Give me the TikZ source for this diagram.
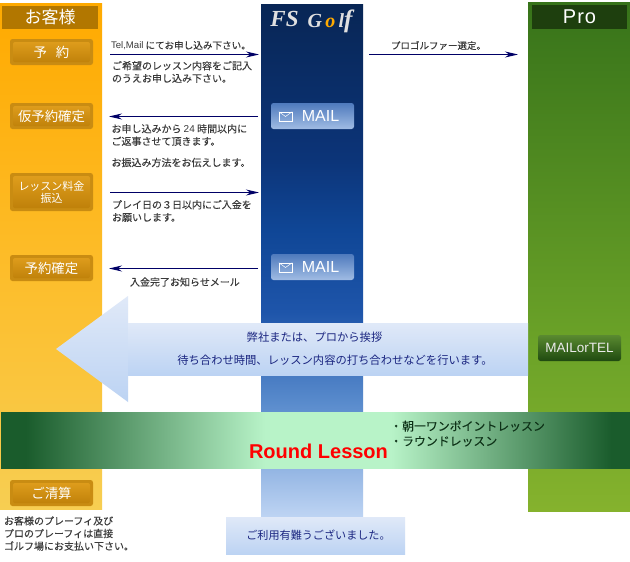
\documentclass[tikz,border=0pt]{standalone}
\usepackage{fontspec}
\setmainfont{Noto Sans CJK JP}
\newfontfamily\heavy{Noto Sans CJK JP}[FakeBold=0.04]
\newfontfamily\latn{Liberation Sans}
\newfontfamily\serf{Liberation Serif}
\usetikzlibrary{arrows.meta,calc}
\definecolor{oa}{HTML}{FFAA00}\definecolor{ob}{HTML}{FDBC28}\definecolor{oc}{HTML}{F7CE52}
\definecolor{ba}{HTML}{082655}\definecolor{bb}{HTML}{0C3478}\definecolor{bc}{HTML}{0F4696}
\definecolor{bd}{HTML}{1E55AA}\definecolor{be}{HTML}{5A8CCD}\definecolor{bf}{HTML}{BED4F3}
\definecolor{ga}{HTML}{37731A}\definecolor{gb}{HTML}{6CA328}\definecolor{gc}{HTML}{85B22D}
\definecolor{la}{HTML}{E0E9F8}\definecolor{lb}{HTML}{BCD3F3}
\definecolor{da}{HTML}{1A5C2C}\definecolor{db}{HTML}{B8F3C8}
\definecolor{na}{HTML}{000066}\definecolor{tx}{HTML}{3A3A3A}\definecolor{tb}{HTML}{1A2580}
\definecolor{oba}{HTML}{E2A01E}\definecolor{obb}{HTML}{BC7E08}\definecolor{obo}{HTML}{C98C12}
\definecolor{bba}{HTML}{A0BCE4}\definecolor{bbb}{HTML}{4F7ABD}
\definecolor{gba}{HTML}{5A8A30}\definecolor{gbb}{HTML}{1F4A10}
\pgfdeclareverticalshading{custcol}{100bp}{color(0bp)=(oc);color(25bp)=(oc);color(50bp)=(ob);color(75bp)=(oa);color(100bp)=(oa)}
\pgfdeclareverticalshading{firmcol}{100bp}{color(0bp)=(bf);color(25bp)=(bf);color(36bp)=(be);color(45bp)=(bd);color(53bp)=(bc);color(60bp)=(bb);color(75bp)=(ba);color(100bp)=(ba)}
\pgfdeclareverticalshading{procol}{100bp}{color(0bp)=(gc);color(25bp)=(gc);color(41bp)=(gb);color(75bp)=(ga);color(100bp)=(ga)}
\pgfdeclareverticalshading{pale}{100bp}{color(0bp)=(lb);color(25bp)=(lb);color(75bp)=(la);color(100bp)=(la)}
\pgfdeclarehorizontalshading{bandshade}{100bp}{color(0bp)=(da);color(27bp)=(da);color(46bp)=(db);color(56bp)=(db);color(73.5bp)=(da);color(100bp)=(da)}
\tikzset{
 x=1pt,y=-1pt,
 colbox/.style={inner sep=0,outer sep=0,shade},
 obtn/.style={inner sep=0,outer sep=0,minimum width=83,minimum height=#1,rounded corners=2.5,fill=obo,text=white,font=\fontsize{13.4}{13}\selectfont,align=center,
   path picture={\shade[top color=oba,bottom color=obb,rounded corners=2] ($(path picture bounding box.north west)+(3,3)$) rectangle ($(path picture bounding box.south east)+(-3,-3)$);}},
 bbtn/.style={inner sep=0,outer sep=0,minimum width=83,minimum height=26,rounded corners=2.5,
   path picture={\shade[top color=bbb,bottom color=bba] (path picture bounding box.north west) rectangle (path picture bounding box.south east);}},
 gbtn/.style={inner sep=0,outer sep=0,minimum width=83,minimum height=26,rounded corners=2.5,text=white!92!black,font=\latn\fontsize{13.5}{13}\selectfont,
   path picture={\shade[top color=gba,bottom color=gbb] (path picture bounding box.north west) rectangle (path picture bounding box.south east);}},
 note/.style={inner sep=0,outer sep=0,anchor=west,align=left,text=tx,font=\heavy\fontsize{10}{12.6}\selectfont},
 big/.style={inner sep=0,outer sep=0,text=tb,font=\fontsize{11.3}{13}\selectfont},
 flow/.style={draw=na,line width=1pt,-{Stealth[length=13pt,width=6pt]}},
 mailbox/.style={draw=white,line width=0.5pt,inner sep=0,minimum width=13,minimum height=9},
}
\begin{document}
\begin{tikzpicture}
\useasboundingbox (0,0) rectangle (630,562);
\fill[white] (0,0) rectangle (630,562);
% columns
\node[colbox,shading=custcol,minimum width=102,minimum height=506] (cust) at (51,256) {};
\node[colbox,shading=firmcol,minimum width=102,minimum height=513] (firm) at (312,260.5) {};
\node[colbox,shading=procol,minimum width=102,minimum height=509] (pro) at (579,256.5) {};
% headers
\node[inner sep=0,fill=oa!70!black,minimum width=96,minimum height=23,text=white,font=\fontsize{17}{17}\selectfont] (custh) at (50,17.5) {お客様};
\node[inner sep=0,fill=ga!55!black,minimum width=95,minimum height=24,text=white,font=\latn\fontsize{20}{20}\selectfont\addfontfeature{LetterSpace=5}] (proh) at (579.5,17) {Pro};
\node[inner sep=0,text=white!88!black,font=\serf\itshape\bfseries\fontsize{23}{23}\selectfont] (fs) at (284.5,19) {FS};
\node[inner sep=0,text=white!88!black,font=\serf\itshape\bfseries\fontsize{20}{20}\selectfont] (golf) at (330,21) {G\,{\color{oa}o}\,l{\fontsize{25}{25}\selectfont f}};
% customer buttons
\node[obtn=26] (b1) at (51.5,52) {予\hspace{9pt}約};
\node[obtn=26] (b2) at (51.5,116) {仮予約確定};
\node[obtn=38,font=\fontsize{11}{12}\selectfont] (b3) at (51.5,192) {レッスン料金\\振込};
\node[obtn=26] (b4) at (51.5,268) {予約確定};
\node[obtn=26] (b5) at (51.5,493) {ご清算};
% mail buttons
\foreach \n/\yy in {m1/116,m2/267}{
 \node[bbtn] (\n) at (312.5,\yy) {};
 \node[mailbox] (\n e) at (285.5,\yy+0.5) {};
 \draw[white,line width=0.5pt] (\n e.north west) -- (\n e.center) -- (\n e.north east);
 \node[inner sep=0,text=white,font=\latn\fontsize{16}{16}\selectfont] (\n t) at (320.5,\yy) {MAIL};
}
% connectors
\coordinate (a1s) at (110,54.5);\coordinate (a1e) at (259,54.5);
\coordinate (a2s) at (258,116.5);\coordinate (a2e) at (109,116.5);
\coordinate (a3s) at (110,192.5);\coordinate (a3e) at (259,192.5);
\coordinate (a4s) at (258,268.5);\coordinate (a4e) at (109,268.5);
\coordinate (a5s) at (369,54.5);\coordinate (a5e) at (518,54.5);
\draw[flow] (a1s) -- (a1e);
\draw[flow] (a2s) -- (a2e);
\draw[flow] (a3s) -- (a3e);
\draw[flow] (a4s) -- (a4e);
\draw[flow] (a5s) -- (a5e);
% notes
\node[note,font=\heavy\fontsize{9.6}{12}\selectfont] (n1) at (111,45.5) {{\latn\fontsize{9.6}{12}\selectfont Tel,Mail}\hspace{2pt}にてお申し込み下さい。};
\node[note] (n2) at (112,72) {ご希望のレッスン内容をご記入\\のうえお申し込み下さい。};
\node[note] (n3) at (111.5,135) {お申し込みから {\latn 24} 時間以内に\\ご返事させて頂きます。};
\node[note] (n4) at (111.5,162.5) {お振込み方法をお伝えします。};
\node[note] (n5) at (112,211) {プレイ日の３日以内にご入金を\\お願いします。};
\node[note] (n6) at (130,282) {入金完了お知らせメール};
\node[note,font=\heavy\fontsize{9.5}{12}\selectfont] (n7) at (391,45.5) {プロゴルファー選定。};
% big arrow
\shade[shading=pale] (56,349) -- (128,296) -- (128,402) -- cycle;
\node[colbox,shading=pale,minimum width=400,minimum height=52] (shaft) at (328,349) {};
\node[big] (g1) at (314.5,337) {弊社または、プロから挨拶};
\node[big] (g2) at (335,360) {待ち合わせ時間、レッスン内容の打ち合わせなどを行います。};
\node[gbtn] (mt) at (579.5,348) {MAILorTEL};
% band
\node[colbox,shading=bandshade,minimum width=629,minimum height=56] (band) at (315.5,440) {};
\node[inner sep=0,text=red,font=\latn\bfseries\fontsize{20}{20}\selectfont] (rl) at (318.5,451.5) {Round Lesson};
\node[inner sep=0,anchor=west,align=left,text=da!55!black,font=\heavy\fontsize{11.9}{15}\selectfont] (ls) at (390,433.5) {・朝一ワンポイントレッスン\\・ラウンドレッスン};
% footer
\node[note] (f1) at (4,533.5) {お客様のプレーフィ及び\\プロのプレーフィは直接\\ゴルフ場にお支払い下さい。};
\node[colbox,shading=pale,minimum width=179,minimum height=37,text=tb,font=\fontsize{11.1}{13}\selectfont] (thx) at (315.5,535.5) {\hspace{6pt}ご利用有難うございました。};
\end{tikzpicture}
\end{document}
